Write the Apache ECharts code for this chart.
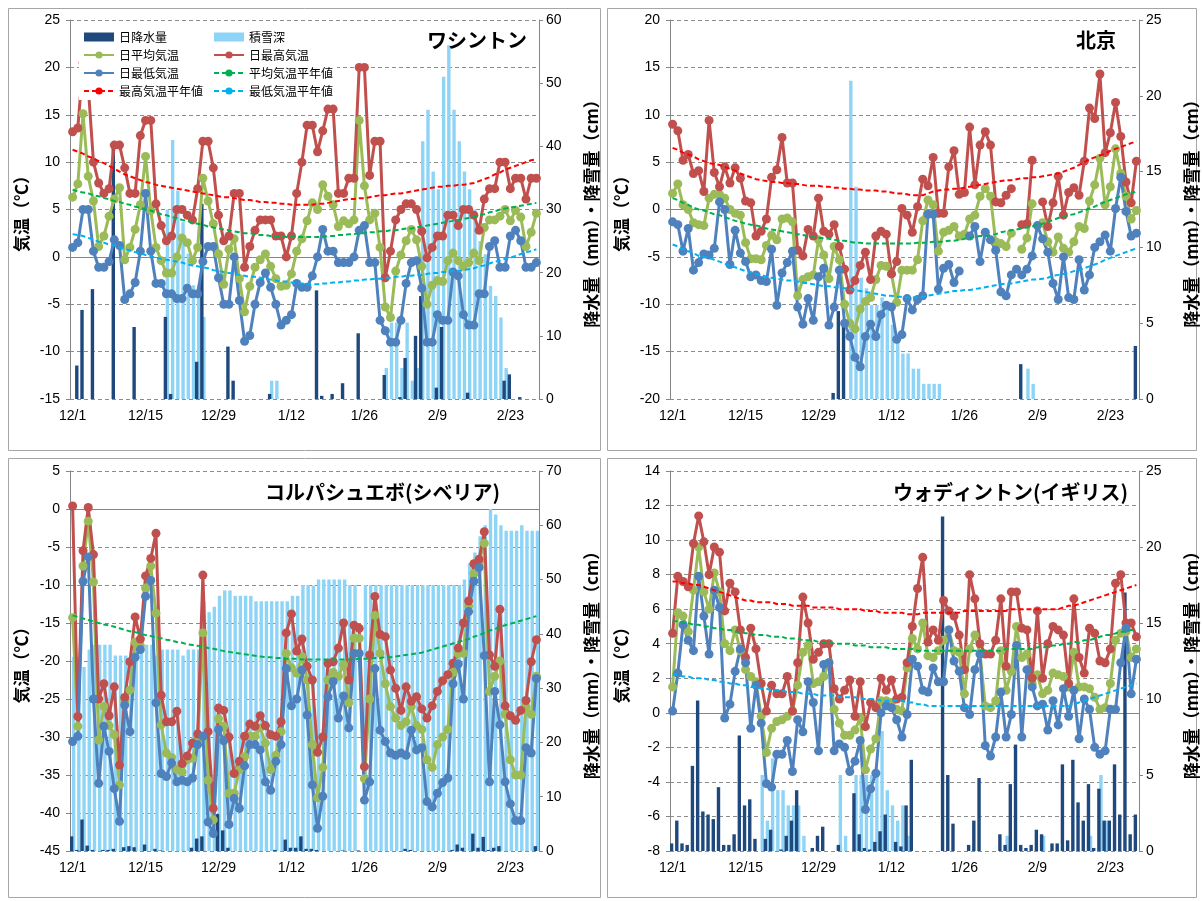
<!DOCTYPE html>
<html><head><meta charset="utf-8">
<script src="https://cdn.jsdelivr.net/npm/echarts@6/dist/echarts.min.js"></script>
<style>html,body{margin:0;padding:0;background:#fff}#c{width:1202px;height:901px}</style>
</head><body><div id="c"></div>
<script>
// ---- categories (12/1 .. 2/28) ----
const monthLens = [[12,31],[1,31],[2,28]];
const days = [];
monthLens.forEach(([m,n])=>{for(let i=1;i<=n;i++)days.push(m+'/'+i);});

// ---- Washington ----
const wasMax = [13.2,13.6,20.5,18.0,10.0,7.8,6.7,7.2,11.8,11.8,
 9.4,6.7,6.7,12.8,14.4,14.4,5.6,3.3,1.7,2.2,
 5.0,5.0,4.4,3.9,7.2,12.2,12.2,9.4,4.4,1.7,
 2.2,6.7,6.7,-1.1,1.1,2.8,3.9,3.9,3.9,2.2,
 2.2,0.0,2.2,6.7,10.0,13.9,13.9,11.1,13.3,15.6,
 15.6,6.7,6.7,8.3,8.3,20.0,20.0,8.6,12.2,12.2,
 -2.2,0.6,3.9,5.0,5.6,5.6,5.0,2.7,-0.1,1.0,
 2.2,2.2,4.4,4.4,3.3,5.0,5.0,4.4,2.8,6.1,
 7.2,7.2,10.0,10.0,7.2,8.3,8.3,6.1,8.3,8.3];
const wasMean = [6.3,7.7,15.1,8.5,5.9,1.1,2.2,4.3,6.1,7.3,
 -0.3,1.0,2.9,5.5,10.6,4.9,1.0,-0.4,-1.7,-1.7,
 0.0,2.0,1.5,-0.4,1.0,8.3,5.9,3.5,0.3,-2.9,
 0.8,1.9,-2.3,-5.8,-3.1,-1.1,-0.3,0.3,-1.0,-2.3,
 -3.1,-3.0,-1.8,0.6,1.9,3.8,5.7,5.0,7.6,6.4,
 5.5,3.2,3.8,3.5,3.9,14.4,7.5,3.9,4.6,1.0,
 -5.3,-6.4,-1.5,0.2,1.7,2.9,1.8,-1.0,-5.0,-3.0,
 -2.5,-2.6,-0.4,0.4,-0.4,-1.0,-0.6,0.4,-0.4,3.1,
 3.9,3.9,4.3,5.0,3.8,4.9,4.2,1.1,2.6,4.6];
const wasMin = [1.0,1.5,5.0,5.0,0.6,-1.1,-1.1,-0.5,1.8,1.2,
 -4.5,-3.9,-2.7,0.6,6.7,0.6,-2.8,-2.8,-3.9,-3.9,
 -4.4,-4.4,-3.3,-3.9,-3.9,-0.5,1.1,1.1,-2.2,-5.0,
 -5.0,0.0,-4.6,-8.9,-8.3,-5.0,-2.7,-1.7,-3.2,-5.0,
 -7.2,-6.7,-6.1,-2.8,-3.2,-3.2,-2.0,0.0,2.9,0.6,
 0.6,-0.6,-0.6,-0.6,0.0,2.8,3.3,-0.6,-0.6,-6.7,
 -7.8,-9.0,-9.0,-6.7,-2.8,-0.6,-0.4,-3.3,-9.0,-9.0,
 -6.1,-6.7,-6.7,-1.6,-2.0,-6.1,-7.2,-7.2,-3.9,-3.9,
 1.1,1.7,-1.1,-1.1,2.2,2.8,1.7,-1.1,-1.1,-0.6];
const wasPrecip = [0,5.3,14.1,0,17.4,0,0,0,40.3,0,
 0,0,11.4,0,0,0,0,0,13.0,0.8,
 0,0,0,0,5.9,30.9,0,0,0,0,
 8.3,2.9,0,0,0,0,0,0,0.8,0,
 0,0,0,0,0,0,0,17.2,0.5,0,
 0.8,0,2.5,0,0,10.4,0,0,0,0,
 3.8,0,0,0.3,6.5,0,10.0,16.3,0,0,
 1.8,11.4,0,0,0,0,1.0,0,0,0,
 0,0,0,2.9,3.9,0,0.3,0,0,0];
const wasSnow = [0,0,0,0,0,0,0,0,0,0,
 0,0,0,0,0,0,0,0,30,41,
 33,28,23,18,18,13,0,0,0,0,
 0,0,0,0,0,0,0,0,2.9,2.9,
 0,0,0,0,0,0,0,0,0,0,
 0,0,0,0,0,0,0,0,0,0,
 4.9,12.1,12.1,4.9,12.1,2.9,4.9,40.8,45.8,36,
 33.2,51,56,45.8,40.8,36,33.2,30,25,22.9,
 17.9,16.3,12.9,4.9,0,0,0,0,0,0];
const wasNormMax = [11.3,11.1,10.9,10.6,10.4,10.1,9.9,9.6,9.3,9.0,
 8.7,8.5,8.3,8.1,7.9,7.8,7.6,7.5,7.4,7.3,
 7.2,7.1,7.0,6.9,6.8,6.7,6.6,6.5,6.4,6.3,
 6.3,6.2,6.1,6.0,6.0,5.9,5.8,5.8,5.7,5.7,
 5.6,5.6,5.5,5.5,5.5,5.5,5.5,5.6,5.6,5.7,
 5.8,5.9,6.0,6.1,6.1,6.2,6.2,6.3,6.4,6.5,
 6.5,6.6,6.7,6.7,6.8,6.9,7.0,7.1,7.2,7.3,
 7.4,7.4,7.5,7.5,7.6,7.6,7.7,7.8,8.0,8.2,
 8.4,8.7,8.9,9.2,9.4,9.6,9.8,10.0,10.2,10.3];
const wasNormMean = [7.1,6.9,6.8,6.7,6.5,6.4,6.2,6.1,5.9,5.8,
 5.6,5.5,5.3,5.2,5.0,4.9,4.7,4.5,4.4,4.2,
 4.1,3.9,3.8,3.6,3.5,3.4,3.2,3.1,3.0,2.9,
 2.8,2.7,2.6,2.5,2.5,2.4,2.3,2.3,2.2,2.2,
 2.2,2.1,2.1,2.1,2.1,2.1,2.1,2.1,2.1,2.2,
 2.2,2.3,2.3,2.4,2.4,2.5,2.5,2.6,2.6,2.7,
 2.7,2.8,2.8,2.9,3.0,3.0,3.1,3.2,3.3,3.4,
 3.5,3.6,3.7,3.8,3.9,4.0,4.1,4.2,4.4,4.5,
 4.7,4.8,5.0,5.1,5.2,5.3,5.4,5.5,5.6,5.7];
const wasNormMin = [2.4,2.3,2.2,2.0,1.8,1.6,1.5,1.3,1.2,1.0,
 0.8,0.7,0.5,0.4,0.2,0.1,-0.1,-0.2,-0.3,-0.4,
 -0.5,-0.6,-0.8,-0.9,-1.0,-1.1,-1.2,-1.4,-1.5,-1.6,
 -1.7,-1.8,-1.9,-2.0,-2.1,-2.1,-2.2,-2.3,-2.4,-2.5,
 -2.6,-2.6,-2.7,-2.8,-2.8,-2.9,-2.9,-2.9,-2.8,-2.8,
 -2.7,-2.7,-2.6,-2.6,-2.5,-2.5,-2.4,-2.4,-2.3,-2.3,
 -2.2,-2.2,-2.1,-2.1,-2.0,-2.0,-1.9,-1.9,-1.8,-1.7,
 -1.7,-1.6,-1.6,-1.5,-1.5,-1.4,-1.3,-1.2,-1.0,-0.9,
 -0.7,-0.5,-0.4,-0.2,-0.1,0.1,0.3,0.5,0.6,0.8];

// ---- Beijing ----
const bjMax = [9.0,8.3,5.2,5.8,3.8,4.1,1.9,9.4,3.9,2.4,
 4.5,2.8,4.4,3.3,0.9,0.7,-2.8,-2.3,-1.0,3.4,
 4.2,7.6,2.8,2.8,-4.3,-4.9,-2.1,-2.8,1.2,-2.3,
 -2.6,-1.6,-3.9,-6.3,-8.5,-7.5,-5.9,-4.5,-7.4,-2.8,
 -2.3,-2.6,-6.8,-5.5,0.1,-0.6,-2.4,0.3,3.2,2.5,
 5.5,-0.4,-0.4,4.5,6.2,1.6,1.8,8.7,2.6,6.8,
 8.2,6.8,0.8,0.7,1.5,2.2,null,-1.6,-1.5,5.2,
 null,0.8,-1.8,0.7,3.5,-0.6,1.8,2.3,1.5,5.1,
 10.7,9.6,14.3,6.0,8.1,11.3,7.7,2.9,0.7,5.1];
const bjMean = [1.7,2.7,0.5,0.0,-1.4,-1.6,-1.7,1.2,1.6,1.6,
 1.2,0.0,-0.4,-0.6,-3.5,-5.2,-5.2,-5.3,-3.8,-2.7,
 -3.2,-1.0,-0.9,-1.3,-9.1,-7.4,-7.1,-6.9,-3.2,-4.8,
 -7.3,-3.9,-5.3,-10.0,-12.0,-12.6,-10.5,-9.7,-9.3,-7.4,
 -5.9,-6.0,-6.8,-9.8,-6.4,-6.4,-6.4,-5.3,-1.2,1.0,
 0.5,-4.4,-2.4,-2.2,-1.8,-2.8,-2.6,-1.0,-0.6,1.4,
 2.2,1.4,-3.4,-3.6,-3.9,-2.5,null,-4.2,-3.0,0.6,
 null,-1.4,-3.4,-4.5,-2.9,-4.1,-4.5,-3.4,-1.8,-2.0,
 0.9,2.6,5.4,0.5,2.4,6.4,3.8,1.4,-1.0,-0.1];
const bjMin = [-1.3,-1.6,-4.4,-2.0,-6.4,-5.6,-4.7,-4.8,-4.1,0.8,
 0.0,-5.8,-2.2,-4.6,-5.5,-7.1,-6.9,-7.5,-7.6,-4.2,
 -10.1,-6.7,-5.6,-4.4,-10.3,-12.1,-9.4,-11.7,-7.1,-6.2,
 -12.2,-10.3,-6.4,-12.0,-13.4,-15.6,-16.6,-13.4,-12.1,-13.4,
 -11.1,-10.1,-10.3,-13.7,-13.2,-9.4,-10.6,-9.5,-9.1,-0.5,
 -0.5,-8.4,-6.2,-5.8,-7.7,-6.5,null,-2.8,-1.8,-5.5,
 -2.4,-3.2,-4.3,-8.7,-9.1,-6.9,-6.3,-6.9,-6.3,-4.9,
 -1.7,-3.1,-4.5,-7.8,-9.5,-5.0,-9.3,-9.5,-5.3,-8.5,
 -6.9,-4.0,-3.4,-2.7,-4.4,0.1,3.4,-0.2,-2.8,-2.5];
const bjPrecip = [0,0,0,0,0,0,0,0,0,0,
 0,0,0,0,0,0,0,0,0,0,
 0,0,0,0,0,0,0,0,0,0,
 0,0.4,5.8,5.0,0,0,0,0,0,0,
 0,0,0,0,0,0,0,0,0,0,
 0,0,0,0,0,0,0,0,0,0,
 0,0,0,0,0,0,0,2.3,0,0,
 0,0,0,0,0,0,0,0,0,0,
 0,0,0,0,0,0,0,0,0,3.5];
const bjSnow = [0,0,0,0,0,0,0,0,0,0,
 0,0,0,0,0,0,0,0,0,0,
 0,0,0,0,0,0,0,0,0,0,
 0,0,0,0,21,14,8.0,7.3,6.2,6.2,
 6.7,6.0,4.9,4.0,3.0,3.0,2.0,2.0,1.0,1.0,
 1.0,1.0,0,0,0,0,0,0,0,0,
 0,0,0,0,0,0,0,0,2.0,1.0,
 0,0,0,0,0,0,0,0,0,0,
 0,0,0,0,0,0,0,0,0,0];
const bjNormMax = [6.5,6.3,6.0,5.8,5.6,5.3,5.1,4.9,4.8,4.7,
 4.5,4.3,4.1,3.8,3.6,3.4,3.2,3.1,3.0,2.9,
 2.9,2.8,2.8,2.7,2.7,2.6,2.5,2.5,2.5,2.4,
 2.4,2.3,2.3,2.2,2.2,2.1,2.1,2.0,2.0,2.0,
 1.9,1.9,1.8,1.7,1.7,1.6,1.5,1.5,1.5,1.7,
 1.9,2.0,2.1,2.1,2.2,2.2,2.3,2.4,2.5,2.6,
 2.7,2.8,2.9,3.0,3.1,3.1,3.2,3.3,3.3,3.4,
 3.4,3.5,3.6,3.7,3.8,4.0,4.2,4.4,4.7,5.0,
 5.3,5.5,5.7,5.9,6.2,6.4,6.6,6.8,7.0,7.2];
const bjNormMean = [1.2,1.0,0.7,0.5,0.2,0.0,-0.1,-0.3,-0.5,-0.6,
 -0.8,-1.0,-1.2,-1.3,-1.5,-1.6,-1.7,-1.8,-2.0,-2.1,
 -2.2,-2.3,-2.4,-2.5,-2.6,-2.7,-2.8,-2.9,-3.0,-3.0,
 -3.1,-3.2,-3.3,-3.3,-3.4,-3.5,-3.5,-3.6,-3.6,-3.6,
 -3.6,-3.6,-3.6,-3.6,-3.6,-3.6,-3.6,-3.5,-3.5,-3.5,
 -3.4,-3.4,-3.4,-3.3,-3.3,-3.2,-3.1,-3.0,-2.9,-2.8,
 -2.8,-2.7,-2.6,-2.4,-2.3,-2.2,-2.1,-2.0,-1.9,-1.8,
 -1.6,-1.5,-1.3,-1.1,-0.9,-0.7,-0.6,-0.5,-0.3,-0.1,
 0.1,0.3,0.6,0.8,1.0,1.2,1.4,1.6,1.7,1.9];
const bjNormMin = [-3.7,-3.9,-4.2,-4.4,-4.6,-4.9,-5.0,-5.1,-5.3,-5.5,
 -5.7,-6.0,-6.1,-6.3,-6.5,-6.6,-6.8,-6.9,-7.1,-7.2,
 -7.3,-7.4,-7.5,-7.5,-7.6,-7.7,-7.8,-7.9,-8.0,-8.1,
 -8.1,-8.2,-8.2,-8.3,-8.4,-8.5,-8.6,-8.7,-8.8,-8.9,
 -9.0,-9.1,-9.1,-9.2,-9.2,-9.3,-9.3,-9.3,-9.2,-9.1,
 -9.0,-8.9,-8.8,-8.7,-8.6,-8.6,-8.5,-8.5,-8.4,-8.3,
 -8.2,-8.1,-8.0,-7.9,-7.8,-7.8,-7.7,-7.6,-7.5,-7.4,
 -7.4,-7.3,-7.2,-7.0,-6.9,-6.8,-6.7,-6.5,-6.4,-6.2,
 -6.0,-5.8,-5.6,-5.3,-5.1,-4.9,-4.7,-4.5,-4.3,-4.1];

// ---- Kolpashevo ----
const kpMax = [0.4,-27.3,-5.5,0.2,-6.0,-25.0,-23.0,-27.2,-23.4,-33.7,
 -24.8,-20.1,-14.2,-17.1,-8.8,-6.5,-3.2,-24.5,-28.0,-28.0,
 -26.6,-33.5,-32.5,-30.8,-29.6,-8.7,-29.3,-39.4,-26.2,-26.5,
 -30.0,-34.8,-33.2,-29.9,-28.3,-28.6,-27.2,-28.5,-29.7,-29.9,
 -28.0,-16.3,-13.8,-18.7,-17.1,-20.7,-22.5,-32.0,-30.0,-20.3,
 -20.1,-18.3,-15.0,-22.5,-15.3,-15.7,-33.9,-19.2,-11.5,-16.5,
 -16.8,-21.2,-23.6,-26.5,-23.4,-25.3,-24.7,-26.3,-27.5,-25.9,
 -24.0,-22.6,-21.8,-20.3,-18.3,-15.0,-12.1,-7.2,-6.6,-3.0,
 -19.2,-20.7,-13.2,-25.9,-27.2,-27.8,-26.5,-25.2,-20.1,-17.2];
const kpMean = [-14.3,-28.6,-7.5,-1.6,-9.6,-30.4,-26.0,-28.5,-29.7,-36.3,
 -25.3,-23.8,-17.5,-18.0,-10.4,-7.5,-13.7,-28.4,-32.1,-32.7,
 -34.3,-34.6,-33.0,-32.8,-30.2,-16.3,-35.7,-40.9,-27.6,-28.6,
 -37.4,-37.4,-34.3,-32.6,-29.9,-29.9,-28.8,-30.8,-34.3,-32.4,
 -29.3,-19.0,-20.9,-21.6,-19.4,-22.5,-31.0,-38.0,-34.0,-22.5,
 -21.5,-22.0,-20.5,-25.5,-17.0,-17.0,-35.5,-25.0,-14.0,-19.0,
 -23.0,-26.0,-27.5,-28.5,-28.0,-26.0,-28.5,-29.0,-33.0,-34.0,
 -31.0,-30.0,-29.0,-21.5,-19.0,-19.0,-12.8,-8.5,-7.0,-4.5,
 -24.0,-22.0,-20.0,-27.0,-33.0,-35.0,-35.0,-26.0,-27.0,-22.0];
const kpMin = [-30.6,-29.9,-9.5,-6.3,-25.0,-36.1,-28.6,-31.9,-36.8,-41.1,
 -25.8,-29.3,-19.5,-18.5,-11.5,-9.4,-25.5,-34.8,-35.2,-33.4,
 -35.9,-35.7,-35.9,-35.4,-31.0,-29.9,-41.2,-42.7,-29.0,-30.5,
 -41.5,-38.1,-39.4,-33.8,-31.0,-31.0,-31.7,-35.9,-37.0,-33.2,
 -31.0,-21.0,-25.9,-25.0,-21.2,-27.1,-36.3,-42.0,-37.8,-24.7,
 -22.7,-27.5,-24.6,-28.8,-19.0,-19.0,-38.3,-35.9,-21.0,-29.1,
 -30.6,-32.1,-32.4,-32.1,-32.4,-29.1,-31.7,-31.4,-38.5,-39.2,
 -37.4,-36.0,-35.4,-23.0,-20.4,-25.0,-13.5,-9.5,-7.7,-19.3,
 -35.9,-24.0,-28.4,-35.9,-38.8,-41.0,-41.0,-31.4,-32.1,-22.3];
const kpPrecip = [2.7,0.2,5.8,1.0,0.2,0,0.2,0.2,0.4,0,
 0.7,0.9,0.7,0,1.2,0,0.4,0.1,0,0,
 0,0,0,0.6,2.3,2.7,0,0,6.8,3.8,
 0.6,0,0,0,0,0,0,0,0,0.2,
 0,2.1,0.6,0.6,2.7,0.4,0.4,0.2,0,0,
 0,0,0.1,0,0,0.1,0,0,0,0,
 0,0,0,0,0.4,0.2,0,0,0,0,
 0,0,0,0.2,1.2,0.6,0,3.2,0.6,2.6,
 0.2,0.6,0.9,0,0,0,0,0,0,0.9];
const kpSnow = [35.8,35.8,33.9,37.1,38,38,38,38,36,36,
 36,36,38,38,38,38,36,37.1,37.1,37.1,
 37.1,36,37.1,37.1,37.1,46,44,45,47,48,
 48,47,47,47,47,46,46,46,46,46,
 46,46,47,47,49,49,48.9,50,50,50,
 50,50,50,49,49,null,49,49,49,49,
 49,49,49,49,49,49,49,49,49,49,
 49,49,49,49,49,50,53,55,58,60,
 63,62,60,59,59,59,60,59,59,59];
const kpNormMean = [-14.0,-14.2,-14.4,-14.6,-14.8,-15.0,-15.2,-15.3,-15.5,-15.7,
 -15.9,-16.1,-16.2,-16.4,-16.6,-16.7,-16.9,-17.0,-17.2,-17.3,
 -17.5,-17.6,-17.8,-17.9,-18.0,-18.1,-18.3,-18.4,-18.5,-18.7,
 -18.8,-18.9,-19.0,-19.1,-19.2,-19.3,-19.4,-19.5,-19.5,-19.6,
 -19.6,-19.7,-19.7,-19.7,-19.8,-19.8,-19.8,-19.8,-19.8,-19.8,
 -19.8,-19.8,-19.8,-19.8,-19.8,-19.7,-19.7,-19.7,-19.6,-19.6,
 -19.5,-19.5,-19.4,-19.3,-19.2,-19.1,-19.0,-18.9,-18.7,-18.5,
 -18.3,-18.1,-17.9,-17.7,-17.5,-17.3,-17.1,-16.8,-16.6,-16.3,
 -16.0,-15.8,-15.5,-15.3,-15.1,-14.9,-14.7,-14.5,-14.3,-14.1];

// ---- Waddington ----
const wdMax = [4.6,7.9,7.6,7.3,9.8,11.4,9.9,8.0,9.6,9.3,
 5.9,7.5,7.0,4.8,3.2,4.9,3.7,1.7,0.1,1.6,
 1.1,1.1,2.1,0.1,2.9,6.7,5.2,3.1,3.5,4.0,
 4.0,1.4,0.8,1.3,1.9,-0.2,1.8,-0.8,0.6,0.3,
 2.0,1.3,1.9,0.8,0.9,2.9,5.0,7.2,9.0,4.1,
 4.8,4.2,6.5,5.9,5.6,4.5,2.5,8.0,6.6,4.0,
 3.4,3.4,4.2,6.6,2.7,7.0,7.0,4.9,4.8,2.0,
 5.9,2.0,4.0,5.0,4.8,4.5,1.7,6.6,3.2,2.3,
 4.9,4.6,3.0,2.9,3.7,7.5,8.0,5.2,5.2,4.4];
const wdMean = [1.5,5.8,5.6,4.7,7.1,9.6,7.0,6.0,8.1,7.0,
 4.0,3.6,4.8,3.6,2.5,2.1,1.8,-0.2,-2.3,-0.9,
 -0.5,-0.4,-0.2,0.1,1.6,3.5,3.9,1.7,1.8,2.1,
 2.9,0.2,-0.6,-1.3,-1.3,-1.0,-0.3,-3.3,-2.1,-1.5,
 0.7,0.7,0.6,0.2,0.1,2.6,4.3,3.7,5.2,3.3,
 3.2,3.6,4.2,4.8,3.6,3.5,1.1,3.7,4.5,3.4,
 0.4,0.3,0.7,3.6,1.3,2.4,5.0,3.2,3.4,1.7,
 2.2,1.1,1.3,2.3,2.2,2.1,1.5,3.5,1.5,1.5,
 1.4,0.9,0.2,0.3,1.7,4.2,4.6,4.7,3.2,3.7];
const wdMin = [0.1,2.3,5.1,4.2,3.6,7.9,5.6,3.4,7.1,6.1,
 -0.3,0.5,2.4,3.7,2.9,-0.9,1.6,-0.6,-4.1,-4.3,
 -2.4,-2.4,-1.6,-3.4,-0.4,-1.1,1.8,0.6,-2.2,2.8,
 2.9,-2.2,-1.8,-2.0,-3.4,-2.8,-1.6,-5.6,-4.4,-3.5,
 0.0,0.4,0.3,-0.4,-1.4,-0.1,3.1,2.7,1.3,1.2,
 2.6,1.8,1.8,4.8,3.0,2.4,0.3,-0.1,2.5,3.4,
 -1.9,-2.5,-1.4,1.2,-1.4,-0.1,3.9,-1.4,2.5,1.5,
 0.4,0.5,-1.0,0.7,-0.7,1.4,-0.2,1.3,-1.5,0.8,
 0.2,-2.0,-2.4,-2.2,0.2,0.2,2.9,4.9,1.1,3.1];
const wdPrecip = [0.5,2.0,0.5,0.4,5.6,9.9,2.6,2.4,2.1,4.2,
 0.4,0.4,1.1,7.6,3.0,3.4,0.8,0,0.8,1.4,
 0,0.1,1.0,2.0,4.0,0,0,0.2,1.0,1.6,
 0,0,0.4,0,0,3.8,1.1,0.2,0.1,0.6,
 1.3,2.4,0,0.6,0.3,3.0,6.0,0,0,0,
 0,0,22.0,5.0,1.8,0,0,0.4,2.0,4.8,
 0,0,0,1.1,0.4,4.4,7.0,0.4,0.2,0.4,
 1.4,1.1,0,0.5,0.5,5.7,0.7,6.0,3.2,2.0,
 4.4,0.2,4.1,2.0,2.0,5.7,2.4,17.0,1.1,2.4];
const wdSnow = [0,0,0,0,0,0,0,0,0,0,
 0,0,0,0,0,0,0,5.0,2.0,6.1,
 4.0,4.0,3.0,3.0,3.0,1.0,0,0,0,0,
 0,0,5.0,1.0,0,5.0,5.0,5.0,5.0,5.0,
 7.9,4.0,3.0,2.0,3.0,1.0,0,0,0,0,
 0,0,0,0,0,0,0,0,0,0,
 0,0,0,0,1.0,0,0,0,0,0,
 0,1.0,0,0,0,0,0,0,0,0,
 1.0,0,5.0,2.0,0,0,0,0,0,0];
const wdNormMax = [7.6,7.6,7.5,7.5,7.4,7.4,7.3,7.2,7.1,7.0,
 6.9,6.8,6.7,6.6,6.5,6.5,6.4,6.4,6.4,6.4,
 6.3,6.3,6.3,6.2,6.2,6.2,6.2,6.1,6.1,6.1,
 6.1,6.1,6.0,6.0,6.0,6.0,6.0,5.9,5.9,5.9,
 5.8,5.8,5.8,5.8,5.8,5.7,5.7,5.7,5.8,5.8,
 5.8,5.8,5.8,5.8,5.8,5.8,5.9,5.9,5.9,5.9,
 5.9,5.9,5.9,5.9,5.9,6.0,6.0,6.0,6.0,6.0,
 6.0,6.0,6.0,6.0,6.0,6.1,6.2,6.2,6.3,6.4,
 6.5,6.6,6.7,6.8,6.9,7.0,7.1,7.2,7.3,7.4];
const wdNormMean = [5.3,5.3,5.2,5.2,5.1,5.1,5.0,5.0,4.9,4.9,
 4.8,4.8,4.7,4.7,4.6,4.6,4.5,4.5,4.5,4.4,
 4.4,4.4,4.3,4.3,4.3,4.2,4.2,4.2,4.1,4.1,
 4.1,4.0,4.0,4.0,4.0,3.9,3.9,3.9,3.8,3.8,
 3.8,3.8,3.7,3.7,3.7,3.7,3.7,3.6,3.6,3.6,
 3.6,3.6,3.6,3.6,3.6,3.6,3.6,3.6,3.6,3.6,
 3.6,3.6,3.6,3.6,3.7,3.7,3.7,3.7,3.7,3.7,
 3.8,3.8,3.8,3.9,3.9,4.0,4.0,4.1,4.1,4.2,
 4.2,4.3,4.4,4.5,4.5,4.6,4.7,4.7,4.8,4.8];
const wdNormMin = [2.2,2.2,2.1,2.1,2.0,2.0,2.0,1.9,1.9,1.8,
 1.8,1.7,1.7,1.6,1.6,1.5,1.5,1.4,1.4,1.3,
 1.3,1.3,1.2,1.2,1.2,1.1,1.1,1.1,1.0,1.0,
 1.0,1.0,0.9,0.9,0.9,0.9,0.8,0.8,0.8,0.8,
 0.7,0.7,0.7,0.7,0.7,0.6,0.6,0.5,0.5,0.4,
 0.4,0.4,0.4,0.4,0.4,0.4,0.4,0.4,0.4,0.4,
 0.4,0.4,0.4,0.4,0.4,0.4,0.4,0.4,0.4,0.4,
 0.4,0.4,0.4,0.4,0.4,0.4,0.4,0.5,0.6,0.7,
 0.8,0.9,1.0,1.1,1.2,1.3,1.4,1.5,1.6,1.7];

// ---- labels ----
const S = {prec:'日降水量', snow:'積雪深', mean:'日平均気温', max:'日最高気温', min:'日最低気温',
  nMean:'平均気温平年値', nMax:'最高気温平年値', nMin:'最低気温平年値'};
const leftName = '気温（℃）';
const rightName = '降水量（mm）・降雪量（cm）';

const panels = [
 {title:'ワシントン', tx:527, ty:40, box:[8,8,592,442], grid:{left:70,top:20,width:469,height:379},
  t:[-15,25,5], r:[0,60,10], max:wasMax, mean:wasMean, min:wasMin, prec:wasPrecip, snow:wasSnow,
  nMax:wasNormMax, nMean:wasNormMean, nMin:wasNormMin},
 {title:'北京', tx:1116, ty:40, box:[607,8,589,442], grid:{left:670,top:20,width:469,height:379},
  t:[-20,20,5], r:[0,25,5], max:bjMax, mean:bjMean, min:bjMin, prec:bjPrecip, snow:bjSnow,
  nMax:bjNormMax, nMean:bjNormMean, nMin:bjNormMin},
 {title:'コルパシュエボ(シベリア)', tx:500, ty:492, box:[8,458,592,439], grid:{left:70,top:471,width:469,height:380},
  t:[-45,5,5], r:[0,70,10], max:kpMax, mean:kpMean, min:kpMin, prec:kpPrecip, snow:kpSnow,
  nMax:null, nMean:kpNormMean, nMin:null},
 {title:'ウォディントン(イギリス)', tx:1128, ty:492, box:[607,458,589,439], grid:{left:670,top:471,width:469,height:380},
  t:[-8,14,2], r:[0,25,5], max:wdMax, mean:wdMean, min:wdMin, prec:wdPrecip, snow:wdSnow,
  nMax:wdNormMax, nMean:wdNormMean, nMin:wdNormMin}
];

const AX = '#868686';
const numFont = {fontFamily:'Liberation Sans', fontSize:14, color:'#000'};
const nameFont = {fontFamily:'Noto Sans CJK JP', fontSize:17, fontWeight:'bold', color:'#000'};

const grids=[], xAxes=[], yAxes=[], series=[], graphics=[];
panels.forEach((p,i)=>{
  grids.push(Object.assign({outerBoundsMode:'none', containLabel:false}, p.grid));
  xAxes.push({type:'category', gridIndex:i, data:days, boundaryGap:true,
    axisLine:{lineStyle:{color:AX}},
    axisTick:{interval:(idx)=>idx%14===0, length:5, lineStyle:{color:AX}},
    axisLabel:Object.assign({interval:(idx)=>idx%14===0, margin:10}, numFont),
    splitLine:{show:false}});
  yAxes.push({type:'value', gridIndex:i, min:p.t[0], max:p.t[1], interval:p.t[2], position:'left',
    name:leftName, nameLocation:'middle', nameGap:40, nameTextStyle:nameFont,
    axisLine:{show:true, lineStyle:{color:AX}},
    axisTick:{show:true, length:4, lineStyle:{color:AX}},
    axisLabel:Object.assign({margin:10}, numFont),
    splitLine:{show:true, lineStyle:{color:'#8c8c8c', type:[4,3], width:1}}});
  yAxes.push({type:'value', gridIndex:i, min:p.r[0], max:p.r[1], interval:p.r[2], position:'right',
    name:rightName, nameLocation:'middle', nameGap:44, nameTextStyle:nameFont,
    axisLine:{show:true, lineStyle:{color:AX}},
    axisTick:{show:true, length:4, lineStyle:{color:AX}},
    axisLabel:Object.assign({margin:7}, numFont),
    splitLine:{show:false}});
  const yl=2*i, yr=2*i+1;
  series.push({name:S.prec, type:'bar', xAxisIndex:i, yAxisIndex:yr, data:p.prec,
    barWidth:3.4, barGap:'-40%', itemStyle:{color:'#1F497D'}, z:2.1, silent:true});
  series.push({name:S.snow, type:'bar', xAxisIndex:i, yAxisIndex:yr, data:p.snow,
    barWidth:3.4, barGap:'-40%', itemStyle:{color:'#8ED4F6'}, z:2, silent:true});
  const line=(name,data,color)=>({name, type:'line', xAxisIndex:i, yAxisIndex:yl, data,
    symbol:'circle', symbolSize:9, showSymbol:true, showAllSymbol:true, connectNulls:false,
    lineStyle:{color, width:3}, itemStyle:{color}, z:3, silent:true});
  series.push(line(S.mean,p.mean,'#9BBB59'));
  series.push(line(S.max,p.max,'#C0504D'));
  series.push(line(S.min,p.min,'#4F81BD'));
  const norm=(name,data,color)=>({name, type:'line', xAxisIndex:i, yAxisIndex:yl, data,
    symbol:'none', lineStyle:{color, width:2, type:[5,3]}, itemStyle:{color}, z:4, silent:true});
  if(p.nMean) series.push(norm(S.nMean,p.nMean,'#00B050'));
  if(p.nMax) series.push(norm(S.nMax,p.nMax,'#FF0000'));
  if(p.nMin) series.push(norm(S.nMin,p.nMin,'#00B0F0'));
  graphics.push({type:'rect', shape:{x:p.box[0]+0.5,y:p.box[1]+0.5,width:p.box[2],height:p.box[3]},
    style:{fill:'none', stroke:'#a6a6a6', lineWidth:1}, z:0, silent:true});
  graphics.push({type:'text', x:p.tx, y:p.ty, z:10, silent:true,
    style:{text:p.title, fill:'#000', font:'bold 20px "Noto Sans CJK JP"', textAlign:'right', textVerticalAlign:'middle'}});
});

const legendCommon = {orient:'vertical', itemWidth:30, itemHeight:9, itemGap:4, selectedMode:false,
  backgroundColor:'#fff', padding:[2,4,2,4], z:5,
  textStyle:{fontFamily:'Noto Sans CJK JP', fontSize:12, color:'#000', lineHeight:14}};
const legends = [
  Object.assign({left:79, top:28, data:[{name:S.prec,icon:'rect'},S.mean,S.min,S.nMax]}, legendCommon),
  Object.assign({left:209, top:28, data:[{name:S.snow,icon:'rect'},S.max,S.nMean,S.nMin]}, legendCommon)
];

const chart = echarts.init(document.getElementById('c'), null, {renderer:'canvas'});
chart.setOption({animation:false, backgroundColor:'#fff', grid:grids, xAxis:xAxes, yAxis:yAxes,
  series, legend:legends, graphic:{elements:graphics}});
</script></body></html>
